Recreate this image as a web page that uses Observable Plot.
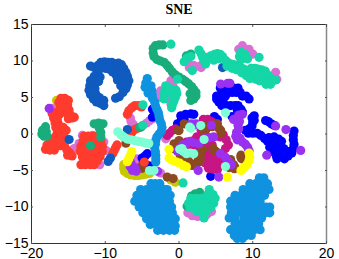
<!DOCTYPE html>
<html><head><meta charset="utf-8">
<script src="https://cdn.jsdelivr.net/npm/d3@7"></script>
<script src="https://cdn.jsdelivr.net/npm/@observablehq/plot@0.6"></script>
<style>html,body{margin:0;padding:0;background:#fff;overflow:hidden}svg{display:block}</style>
</head><body><div id="c"></div>
<script>
const orchid=[[-17.2,3.5],[-14.2,-2],[-13.55,-1.3],[-13.1,-0.2],[-9.9,-2.25],[-10.2,-1.1],[-10.75,-4.2],[-11.7,-0.2],[-6.6,2.2],[-6.5,1.7],[-6.2,1.3],[-4.4,1.5],[-4,1.8],[-3.6,2.1],[-5.7,-3.4],[-5.4,-3.9],[-2.5,-5.35],[-1.8,-0.66],[-2.5,5.9],[-2.5,5],[-0.8,6.5],[-1.1,7.3],[-1.3,5.1],[-1.1,4.1],[1.4,9.1],[2.05,9.36],[2.95,9.36],[8.6,12.1],[8.1,11.6],[9.5,11.6],[10,10.95],[13.1,8.45],[13.25,7.5],[3.85,10.5],[3.4,9.6],[1.6,9.4],[2.05,9.1],[3,9.1],[1.2,-10.8],[1.8,-11.2],[2.5,-11.3],[3.1,-11.3],[3.8,-11],[4.4,-10.6]];
const blue=[[5.6,6.3],[6.2,6.3],[6.8,6.3],[7.4,6.3],[8,6.3],[6,5.7],[6.6,5.7],[7.2,5.7],[7.8,5.7],[8.3,5.7],[5.1,5.2],[5.7,5.2],[6.3,5.2],[8.6,5.2],[9.1,5.2],[9.5,4.8],[5.1,4.8],[5.4,4.4],[6,4.4],[5.8,3.9],[6.4,3.9],[7,3.9],[7.6,3.9],[8,3.9],[8.4,3.4],[7.9,3.3],[8.6,3],[7.2,2.4],[0.24,2.5],[0.9,2.7],[1.6,2.75],[2,2.7],[-0.2,1.4],[0.3,1.9],[0.7,2],[-0.44,0.7],[0,1.2],[4.75,1.85],[4.8,2.4],[5.2,2],[10.2,2.5],[10.2,1.9],[9.9,2.2],[10,1.6],[9.9,1.1],[9.5,0.7],[9,0.5],[9.4,0.1],[10,0.1],[10.6,0.1],[11.1,-0.2],[11.6,-0.6],[12,-1],[12.2,-0.5],[12.9,-0.4],[12.4,-1.2],[13,-1],[13.5,-0.7],[13.9,-1],[12.3,-1.8],[12.9,-1.7],[13.5,-1.6],[12.6,-2.4],[13.2,-2.3],[13.8,-2.3],[14.2,-2],[13.2,-3],[13.8,-3],[14.3,-3.4],[13.3,-3.4],[14.8,-3],[15.3,-2.6],[15.5,-2],[15.6,-1.4],[15.5,-0.8],[15.5,-0.2],[15.6,0.4],[14.9,-2.4],[11.75,1.85],[12.1,1.7],[12.5,1.4],[12.9,1.2],[-3.6,3.4],[-3.6,2.3],[-4.3,-2.7],[-4.6,-3],[-5,-3.3],[-4.3,-4.3],[-3.9,-4.4],[4.3,-5.8]];
const olive=[[-16.6,4.6],[-7.5,-4.2],[-7.5,-4.7],[-7.4,-5.1],[-7,-5.4],[-6.5,-5.6],[-6,-5.7],[-5.5,-5.7],[-5,-5.6],[-4.5,-5.5],[-4,-5.4],[-1.1,-6.3],[-0.5,-6.6]];
const magenta=[[3.3,2],[3.9,2],[4.4,1.7],[3.5,1.3],[3,0.5],[3.6,0.5],[2.4,-0.4],[3,-0.3],[2,-0.9],[2.6,-0.9],[3.2,-1],[1,-1.1],[1.5,-1.5],[2.1,-1.6],[2.7,-1.7],[3.9,-1.7],[4.5,-1.5],[5.6,-0.4],[6,-0.1],[6.4,-0.8],[6.7,-1.5],[6.3,-2],[3.8,-2.6],[4.4,-2.8],[5,-2.9],[5.5,-3.2],[3.5,-3.3],[4.1,-3.4],[4.7,-3.5],[5.3,-3.7],[5.9,-3.9],[3.6,-4],[4.2,-4.1],[4.8,-4.2],[5.4,-4.4],[4,-4.7],[4.6,-4.8],[5.2,-4.9],[-0.9,0.5],[-1.3,0.1],[-1.6,-0.2],[-0.5,0.7]];
const brown=[[0.7,1.4],[-0.13,0.5],[3.85,1.16],[5,1.4],[3.4,0.2],[2.7,-3.2],[2.95,-2.5],[2.3,-4.1],[4.75,-2.2],[5.65,0.5],[8.4,-3.2],[-0.44,-1.57],[1.15,-3.85],[7.5,-4.75],[6.8,-3.85],[0,0.47],[-0.67,-1.35],[1.8,-4.3],[2.7,-3.85],[-5,-4.7],[-5,-4.3],[-7.2,-1.25],[-1.6,-5.9],[-0.8,-6.1],[2.7,-2.8],[2.9,-3.4],[2.5,-3.8],[2,-4.2],[1.3,-3.7],[0.7,-3.4],[0.2,-3.1],[3.2,-2.1],[4.6,-2],[5,-2.4],[7,-3.5],[7.4,-4.2],[7.6,-4.6],[6.8,-4.6],[-0.9,-2],[0.3,-1.5],[0,-0.9],[5.4,0.8],[5.7,0.1],[5.2,1.4],[4.5,1],[3.9,0.9],[8.4,-2.9],[8.5,-3.4]];
const red=[[-16,4.9],[-15.5,4.9],[-15,4.6],[-16.3,4.3],[-15.7,4.2],[-15.1,4],[-16.1,3.6],[-15.5,3.5],[-14.9,3.3],[-15.2,2.8],[-14.8,2.7],[-14.5,2.2],[-15,2.1],[-14.2,2.3],[-17.2,2.8],[-16.7,2.9],[-16.2,2.7],[-17,2.2],[-16.5,2.1],[-16.8,1.5],[-16.4,1.5],[-16.7,0.9],[-16.2,0.9],[-15.7,0.9],[-15.3,0.5],[-15.9,0.3],[-16.5,0.2],[-16.8,-0.4],[-16.2,-0.4],[-15.6,-0.3],[-17.4,-0.9],[-16.8,-1],[-16.2,-1],[-15.6,-1.1],[-17.9,-1.5],[-17.3,-1.6],[-16.7,-1.6],[-16.1,-1.6],[-15.5,-1.7],[-18.1,-2.1],[-17.5,-2.2],[-16.9,-2.2],[-15.2,-2.2],[-14.8,-2.6],[-14.5,-3],[-15.1,-2.9],[-12.9,-0.3],[-12.3,-0.3],[-11.7,-0.3],[-11.1,-0.3],[-13,-1],[-12.4,-1],[-11.8,-1],[-11.2,-1],[-10.6,-1],[-13.3,-1.7],[-12.7,-1.7],[-12.1,-1.7],[-11.5,-1.7],[-10.9,-1.7],[-10.4,-1.7],[-13.4,-2.4],[-12.8,-2.4],[-12.2,-2.4],[-11.6,-2.4],[-11,-2.4],[-10.4,-2.4],[-13.1,-3.1],[-12.5,-3.1],[-11.9,-3.1],[-11.3,-3.1],[-10.7,-3.1],[-12.9,-3.7],[-12.3,-3.7],[-11.7,-3.7],[-11.1,-3.7],[-13.3,-4.2],[-12.7,-4.2],[-12,-4.2],[-11.5,-4.2],[-8.4,-1.5],[-8.6,-1.9],[-8.8,-2.3],[-9,-2.7],[-6.8,3.2],[-7,2.7],[-6.4,3.6],[-6,3.9],[-5.5,3.9],[-5.1,3.7],[-6.4,0.2],[-6,0.6],[-5.6,0.8],[-5.1,1],[-4.7,-3.85]];
const royal=[[-12,9.3],[-11.5,9.1],[-11,9.4],[-10.6,9.8],[-10.1,9.9],[-9.6,9.8],[-9.1,9.8],[-8.6,9.6],[-8.2,9.7],[-7.8,9.5],[-7.5,9],[-7.2,8.45],[-7,7.9],[-6.8,7.3],[-7,6.7],[-7.2,6.2],[-7.6,5.7],[-8.1,5.1],[-8.6,4.9],[-10.6,9],[-10,9],[-9.5,8.9],[-9,8.5],[-8.5,8],[-8.35,7.4],[-7.8,7.4],[-8.3,8.9],[-7.8,8.5],[-7.9,6.6],[-11,8.5],[-11.5,7.9],[-12,7.3],[-12.1,6.6],[-12.2,6],[-12,5.4],[-11.6,4.8],[-11.2,4.4],[-10.7,4.2],[-10.2,3.9],[-11.3,7],[-11.4,6.2],[-11.3,5.5],[-10.8,5],[-10.2,4.6],[-10.7,7.8],[-10.9,7.2],[-14.9,-0.75],[-9.3,-3.3],[-9.6,-3.75],[-7,0.6],[5.9,9.1]];
const lightBlue=[[-4.3,7.6],[-4.5,7],[-4.6,6.4],[-4.2,6.2],[-3.8,6.6],[-3.7,6],[-4.2,5.6],[-3.6,5.4],[-3.6,4.9],[-3.3,4.4],[-3.2,3.9],[-3,3.4],[-2.8,2.9],[-2.7,2.4],[-2.6,1.9],[-2.4,1.4],[-2.3,0.9],[-2.4,0.4],[-2.7,0],[-3,-0.4],[-3.15,-0.9],[-3.2,-1.4],[-3.3,-1.9],[-3.2,-2.4],[-3.15,-2.9],[-3.15,-3.4],[-3.15,-3.85],[-3.8,-6.8],[-3.2,-6.8],[-2.6,-6.8],[-5.2,-7.6],[-4.4,-7.6],[-3.6,-7.6],[-2.8,-7.6],[-2,-7.6],[-1.6,-7.6],[-5.7,-8.4],[-5,-8.4],[-4.2,-8.4],[-3.4,-8.4],[-2.6,-8.4],[-1.8,-8.4],[-1.2,-8.4],[-6,-9.2],[-5.3,-9.2],[-4.5,-9.2],[-3.7,-9.2],[-2.9,-9.2],[-2.1,-9.2],[-1.3,-9.2],[-5.4,-10],[-4.6,-10],[-3.8,-10],[-3,-10],[-2.2,-10],[-1.4,-10],[-1,-10],[-4.9,-10.8],[-4.1,-10.8],[-3.3,-10.8],[-2.5,-10.8],[-1.7,-10.8],[-0.9,-10.8],[-4.4,-11.6],[-3.6,-11.6],[-2.8,-11.6],[-2,-11.6],[-1.2,-11.6],[-0.5,-11.6],[-3.9,-12.4],[-3.1,-12.4],[-2.3,-12.4],[-1.5,-12.4],[-0.7,-12.4],[-0.5,-12.6],[-2.9,-13.2],[-2.1,-13.2],[-1.3,-13.2],[-0.6,-13.2],[10.9,-6],[11.5,-6],[9.6,-6.8],[10.4,-6.8],[11.2,-6.8],[12,-6.8],[8.7,-7.6],[9.5,-7.6],[10.3,-7.6],[11.1,-7.6],[11.9,-7.6],[12.2,-7.6],[7.6,-8.4],[8.4,-8.4],[9.2,-8.4],[10,-8.4],[10.8,-8.4],[11.6,-8.4],[7,-9.2],[7.8,-9.2],[8.6,-9.2],[9.4,-9.2],[10.2,-9.2],[11,-9.2],[7,-10],[7.8,-10],[8.6,-10],[9.4,-10],[10.2,-10],[11,-10],[11.8,-10],[12.3,-10],[7.1,-10.8],[7.9,-10.8],[8.7,-10.8],[9.5,-10.8],[10.3,-10.8],[11.1,-10.8],[11.7,-10.8],[12.3,-10.8],[6.8,-11.5],[7.6,-11.5],[8.8,-11.5],[9.6,-11.5],[10.4,-11.5],[11.2,-11.5],[7.6,-12.3],[8.4,-12.3],[9.2,-12.3],[10,-12.3],[10.8,-12.3],[7,-13.1],[7.8,-13.1],[8.6,-13.1],[9.4,-13.1],[10.2,-13.1],[11,-13.1],[7.5,-13.9],[8.3,-13.9],[9.1,-13.9],[9.8,-13.9],[7.9,-14.3],[8.6,-14.3]];
const green=[[-18.1,1],[-18.5,0.5],[-18.6,0],[-18.3,-0.3],[-18,0.3],[-17.9,-0.3],[-11.5,1.4],[-10.9,1.5],[-10.3,1.4],[-10.8,0.8],[-10.6,0.2],[-10.6,-0.4],[-12,-1.6],[-5.3,0.9],[-2.2,12.2],[-2.7,12.2],[-3.2,12.1],[-3.5,11.7],[-3.5,11.1],[-3.4,10.6],[-3,10.2],[-2.5,10],[-2,9.8],[-1.6,9.4],[-1.3,9],[-0.9,8.5],[-0.5,8.1],[0,7.8],[0.5,7.5],[0.9,7.2],[1.3,6.9],[1.7,6.5],[2,6.1],[2.3,5.7],[2.3,5.2],[2,4.8],[1.6,4.6],[1.5,5.5],[1.6,10.95],[1,10.7],[2.8,-8],[2.2,-8.2],[1.7,-8.5],[1.1,-9.9]];
const teal=[[-4.9,4],[-4.9,1.2],[-1.1,12.3],[-0.2,7.5],[-1.8,6.6],[-1.9,6],[-2,5.4],[-2,4.8],[-1.5,5.8],[-1.3,6.3],[-1,5.6],[-0.4,6],[-0.3,5.5],[-0.5,5],[-0.7,4.5],[-0.9,4],[-1,3.6],[0.7,9.9],[1.1,10.4],[1.6,10.6],[1.8,8.7],[2.7,11.5],[3,11],[3.2,10.5],[3.4,10],[3.6,9.6],[3.9,10.3],[4.3,10.7],[4.8,10.9],[5.2,11],[5.6,10.9],[5.9,10.6],[6.3,10.1],[6.6,9.8],[7,9.6],[7.4,9.5],[7.9,9.4],[8.3,9.2],[8.8,8.9],[9.2,8.6],[9.7,8.2],[10.1,7.8],[10.4,7.5],[4.7,10.1],[5.4,10.3],[5,10.4],[6.5,9.3],[7.2,9],[7.8,8.8],[8.5,8.4],[9.1,8],[9.6,7.6],[10.9,7.3],[11.4,8.2],[10.7,8.9],[11.2,8.8],[11.7,8.6],[12,8.1],[12.4,7.7],[12.6,7.2],[12.4,6.8],[11.8,6.8],[11.5,7.3],[11,7.6],[10.9,8.2],[13.1,7.4],[8.4,11.2],[8.2,10.6],[8.4,10.2],[8.9,10.4],[9.3,10.3],[9,10.9],[10.85,10.5],[9.8,9],[10.3,9],[0.55,-6.7],[4.1,-7.6],[3.9,-8.3],[4.6,-8.3],[1.6,-8.8],[2.3,-8.8],[3,-8.8],[3.6,-8.8],[4.3,-8.8],[4.9,-8.8],[1.3,-9.5],[2,-9.5],[2.7,-9.5],[3.4,-9.5],[4.1,-9.5],[4.7,-9.5],[1.5,-10.1],[2.3,-10.1],[3,-10.1],[3.7,-10.1],[4.3,-10.1],[2.4,-10.6],[3.1,-10.6],[3.7,-10.6],[3.4,-11.5]];
const purple=[[-17.6,3.5],[5.65,6.85],[6.9,6.95],[6.6,6.95],[8.6,2.7],[8.1,2.6],[7.9,2.2],[7.4,2],[8.2,1.7],[8,1.2],[8.1,0.7],[7.8,0.2],[7.7,-0.3],[7.9,-0.8],[8.3,-0.6],[8.6,-1.1],[9,-1.4],[9.3,-1.8],[9.5,-2.3],[13.1,1.1],[14.5,0.6],[16.5,-2.25],[11.9,-2.9],[2.3,1.4],[2,1.2],[1.7,1.4],[4.1,-0.5],[4.7,-0.4],[4.4,1.2],[1,-1.3],[1.5,-1],[2,-1.2],[0.5,-1.5],[0,-2],[-0.2,-2.4],[2.6,-5],[5.6,-2.7],[6.3,-3.2],[6.7,-3.7],[7.1,-4.2],[2.7,-1.35],[3.4,-0.66],[5.4,-5.9],[-6.5,-4],[-6.6,-4.5],[-6.3,-5],[-5.8,-5.1],[-6,-4.6],[-2.9,-5.1]];
const aqua=[[6.3,2.9],[-8.3,0.3],[-7.9,-0.1],[-7.5,-0.4],[-7,-0.7],[-6.5,-0.8],[-6,-0.9],[-5.5,-1],[-5,-1.1],[-4.5,-1.25],[-4.1,-1.3],[-4,-5],[-3.4,-5],[1.6,0.8],[2.95,1.16],[3.4,-0.75],[0.1,-2.1],[0.4,-2],[0.6,-2.4],[1,-2.7],[1.5,-2.6],[2,-2.7],[6.3,-4.45],[1.45,0.93]];
const yellow=[[-6.4,-2.4],[-6.6,-2.9],[-6.8,-3.4],[-7,-3.8],[-1.35,-2.1],[-1.35,-3.3],[-0.9,-3.6],[-0.4,-3.8],[0.1,-4],[0.6,-4.3],[1,-4.5],[9.5,-2.6],[9.6,-3.1],[9.5,-3.6],[9.2,-4.2],[8.8,-4.6],[8.4,-5],[6.55,-5.9]];
const layers=[[orchid,"#da70d6"],[blue,"#0000ff"],[olive,"#c8c800"],[magenta,"#c71585"],[brown,"#8b4a20"],[red,"#ff3b2e"],[royal,"#0f5bbf"],[lightBlue,"#0f93e0"],[green,"#1aad7c"],[teal,"#14d6a6"],[purple,"#9a30f0"],[aqua,"#7fffd4"],[yellow,"#ffff00"]];
const xTicks=[-20,-10,0,10,20], yTicks=[-15,-10,-5,0,5,10,15];
const title="SNE";
const fmt=d=>String(d).replace("-","\u2212");
const plot=Plot.plot({
  width:339,height:259,marginLeft:31,marginRight:13,marginTop:24,marginBottom:16,
  style:{fontFamily:"'Liberation Sans',sans-serif",fontSize:"14px",color:"#000",background:"#fff"},
  x:{domain:[-20,20],label:null},
  y:{domain:[-15,15],label:null},
  marks:[
    ...layers.map(([d,c])=>Plot.dot(d,{x:"0",y:"1",r:4.6,fill:c})),
    Plot.frame({stroke:"#333",strokeWidth:1}),
    Plot.ruleX([20],{stroke:"#888",strokeWidth:1.5}),
    Plot.axisX({ticks:xTicks,anchor:"bottom",tickSize:-2,tickPadding:7,tickFormat:fmt,label:null,stroke:"#555"}),
    Plot.axisX({ticks:xTicks,anchor:"top",tickSize:-2,tickFormat:()=>"",label:null,stroke:"#555"}),
    Plot.axisY({ticks:yTicks,anchor:"left",tickSize:-2,tickPadding:5,tickFormat:fmt,label:null,stroke:"#555"}),
    Plot.axisY({ticks:yTicks,anchor:"right",tickSize:-2,tickFormat:()=>"",label:null,stroke:"#555"}),
    Plot.text([title],{frameAnchor:"top",dy:-20,fontFamily:"'Liberation Serif',serif",fontWeight:"bold",fontSize:14,letterSpacing:"0.5px"})
  ]
});
document.getElementById("c").appendChild(plot);
</script></body></html>
